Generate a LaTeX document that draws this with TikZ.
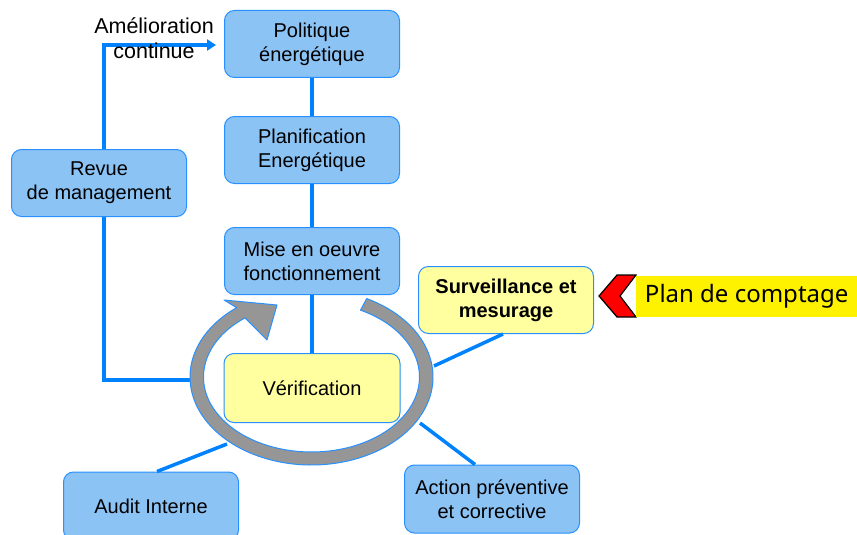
\documentclass[tikz,border=0pt]{standalone}
\usepackage{fontspec}
\setmainfont{Liberation Sans}
\newfontfamily\planfont{Noto Sans}
\usetikzlibrary{arrows.meta}

\definecolor{boxblue}{RGB}{140,195,245}
\definecolor{edgeblue}{RGB}{40,145,255}
\definecolor{linkblue}{RGB}{0,130,255}
\definecolor{boxyellow}{RGB}{255,255,160}
\definecolor{ringgray}{RGB}{150,150,150}

\begin{document}
\begin{tikzpicture}[x=1pt, y=-1pt,
	bluebox/.style = {draw = edgeblue, fill = boxblue, rounded corners = 10pt, line width = 1pt,
		minimum width = 175pt, minimum height = 67pt, align = center, font = \fontsize{20}{24}\selectfont},
	yellowbox/.style = {bluebox, fill = boxyellow},
	link/.style = {draw = linkblue, line width = 3.5pt}]
\clip (0,0) rectangle (857,535);

\node[bluebox] (polit) at (312,44) {Politique\\énergétique};
\node[bluebox] (planif) at (312,150) {Planification\\Energétique};
\node[bluebox] (oeuvre) at (312,261) {Mise en oeuvre\\fonctionnement};
\node[bluebox] (revue) at (99,183) {Revue\\de management};
\node[yellowbox, font = \fontsize{20}{24}\selectfont\bfseries] (surv) at (506,300) {Surveillance et\\mesurage};
\node[bluebox, minimum height = 68pt] (action) at (492,499) {Action préventive\\et corrective};
\node[bluebox, minimum height = 68pt] (audit) at (151,506) {Audit Interne};

% points on the ring
\coordinate (ringC) at (311.5,377);
\coordinate (ringW) at (192,380);
\coordinate (ringE) at (434,366);
\coordinate (ringSE) at (420,423);
\coordinate (ringSW) at (227,444);

\draw[link] (polit) -- (planif);
\draw[link] (planif) -- (oeuvre);
\draw[link] (oeuvre.south) -- (312,360);
\draw[link, -{Triangle[length=9pt, width=11pt]}] ([xshift=5pt]revue.north) |- ([xshift=-8pt, yshift=-1pt]polit.west);
\draw[link] ([xshift=5pt]revue.south) |- (ringW);
\draw[link] ([xshift=-3pt]surv.south) -- (ringE);
\draw[link] (ringSE) -- ([xshift=-17pt]action.north);
\draw[link] (ringSW) -- ([xshift=6pt]audit.north);

\node[align = center, font = \fontsize{21.5}{25}\selectfont] (amelio) at (154,38) {Amélioration\\continue};

% grey cycle arrow
\fill[ringgray, draw = edgeblue, line width = 1pt, line join = round]
	([shift={(-63:121.5 and 88)}]ringC) arc[start angle = -63, end angle = 232, x radius = 121.5, y radius = 88]
	-- (224,300) -- (277,305) -- (267,340)
	-- ([shift={(232:108 and 75)}]ringC) arc[start angle = 232, end angle = -63, x radius = 108, y radius = 75]
	-- cycle;

\node[yellowbox, minimum width = 176pt, minimum height = 69pt] (verif) at (312,388) {Vérification};

% plan de comptage
\draw[fill = red, line width = 1.2pt, line join = miter] (599,296) -- (617,275) -- (636,275) -- (620,296) -- (636,317) -- (617,317) -- cycle;
\node[fill = yellow, minimum width = 221pt, minimum height = 41pt, anchor = west,
	font = \planfont\fontsize{24}{28}\selectfont] (plan) at (636,296.5) {Plan de comptage};
\end{tikzpicture}
\end{document}
